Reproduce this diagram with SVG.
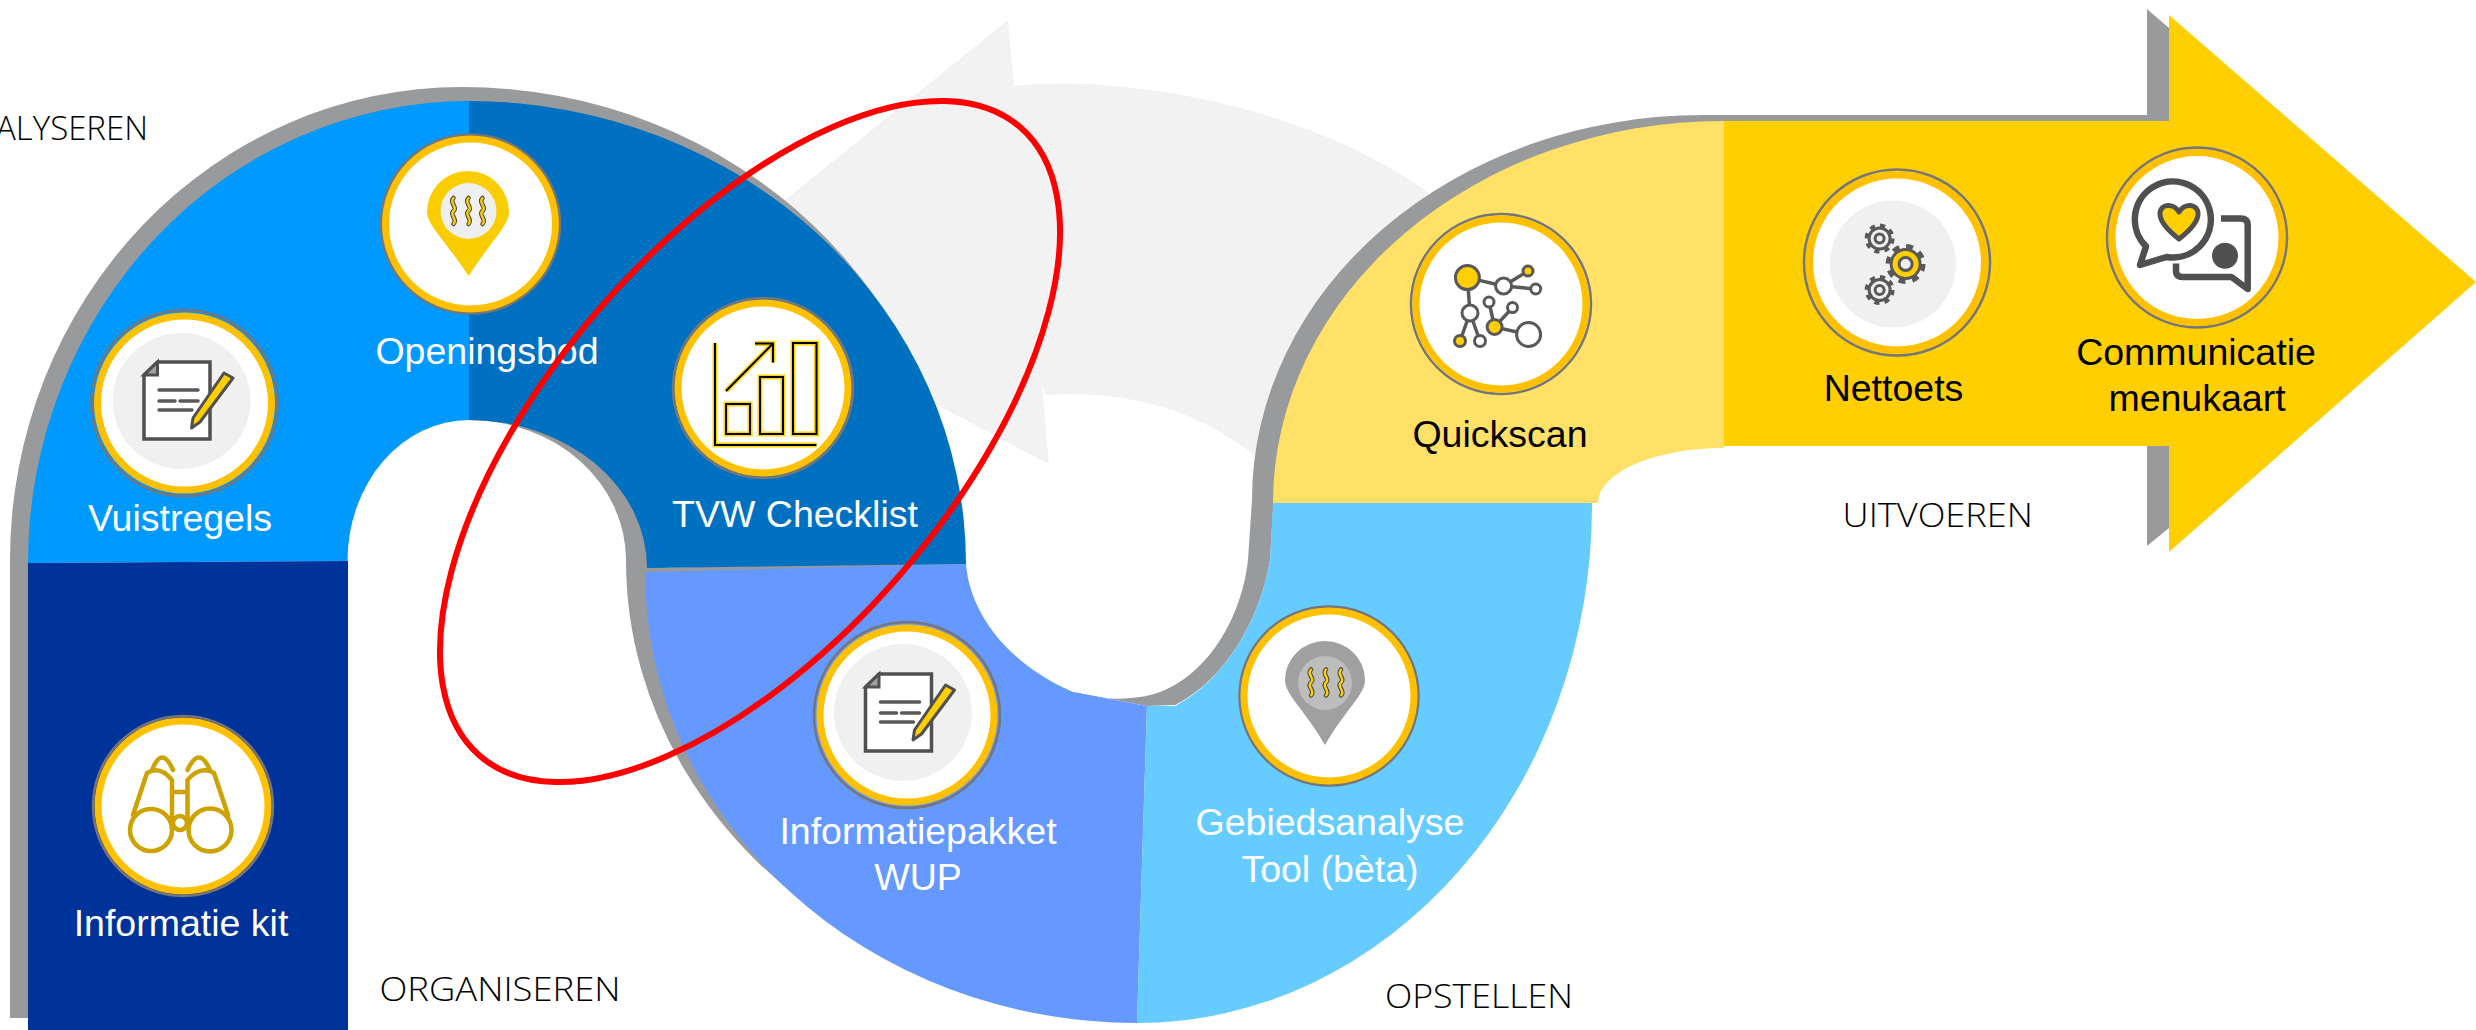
<svg xmlns="http://www.w3.org/2000/svg" xmlns:xlink="http://www.w3.org/1999/xlink" width="2476" height="1030" viewBox="0 0 2476 1030">
<style>
.sh{fill:#999a9c}
.ring{fill:#fff;stroke:#ffc000;stroke-width:7}
.rim{fill:none;stroke:#76757a;stroke-width:2.5}
.disc{fill:#f0f0f0}
.lw{font-family:"Liberation Sans",Arial,sans-serif;font-size:37.5px;text-anchor:middle;fill:#fff}
.lb{font-family:"Liberation Sans",Arial,sans-serif;font-size:37.5px;text-anchor:middle;fill:#000}
.st{font-family:"Open Sans","Liberation Sans",sans-serif;font-weight:300;font-size:33px;fill:#000}
.ic{fill:none;stroke:#595959;stroke-width:3.5;stroke-linejoin:round;stroke-linecap:round}
.nd{fill:#fff;stroke:#595959;stroke-width:3}
.ng{fill:#ffcf01;stroke:#595959;stroke-width:3}
.bi{fill:none;stroke:#cca300;stroke-width:4.5;stroke-linejoin:round;stroke-linecap:round}
.cy{fill:none;stroke:#ffd400;stroke-width:5}
.ck{fill:none;stroke:#000;stroke-width:2}
.cb{fill:none;stroke:#505050;stroke-width:6.5;stroke-linejoin:round}
</style>
<defs>
<g id="wave"><path d="M0,-13C-5,-8 5,-4 0,0C-5,4 5,8 0,13" fill="none" stroke="#444" stroke-width="4.500" stroke-linecap="round"/><path d="M0,-13C-5,-8 5,-4 0,0C-5,4 5,8 0,13" fill="none" stroke="#ffcf01" stroke-width="2.400" stroke-linecap="round"/></g>
<g id="doc">
<path d="M144,375L157.500,362H210V439H144Z" fill="#fff" stroke="#505050" stroke-width="3.500"/>
<path d="M144,375L157.500,362V375Z" fill="#a0a0a0" stroke="#505050" stroke-width="3"/>
<path d="M159,390H198M159,401H175M180,401H198M159,410H192" class="ic"/>
<path d="M224,373L233,378L200,422L191.500,428L193,418Z" fill="#ffcf01" stroke="#505050" stroke-width="3" stroke-linejoin="round"/>
</g>
<g id="gear">
<circle r="12.500" fill="none" stroke="#595959" stroke-width="5" stroke-dasharray="4.900 4.920"/>
<circle r="12" fill="#595959"/>
</g>
</defs>

<path id="back-arrow" d="M1008,20L1014,86C1110,75 1300,100 1429,193L1500,300L1260,460C1200,410 1130,390 1045,395L1042,384L1049,464L935,404L800,300L785,200Z" fill="#f2f2f2"/>

<g id="ribbon-shadow">
<path class="sh" d="M10,1018V560A452,473 0 0 1 462,87A497,473 0 0 1 959,560L626,560A157,140 0 0 0 469,420L469,300L28,563V1018Z"/>
<path class="sh" d="M626,560A511,450 0 0 0 850,933L1000,900L700,600L660,560Z"/>
<path class="sh" d="M645,568L966,562V566L645,574Z"/>
<path class="sh" d="M1073,692Q1105,702 1140,697C1195,690 1240,630 1248,560L1252,500A451,385 0 0 1 1703,115H2147V9L2169,28V130H1724L1273,510L1270,560C1260,620 1225,680 1175,705L1147,706Z"/>
<path class="sh" d="M2147,446H2169V528L2147,546Z"/>
</g>

<g id="ribbon">
<path fill="#0099ff" d="M28,563A441,462 0 0 1 469,101V420A121.500,141 0 0 0 347.500,561Z"/>
<path fill="#003399" d="M28,563L348,561V1030H28Z"/>
<path fill="#0070c0" d="M469,101A497,463 0 0 1 966,564L647,568A178,148 0 0 0 469,420Z"/>
<path fill="#6699ff" d="M645,572L966,564C970,615 1010,665 1073,692L1147,706L1137,1023A492,451 0 0 1 645,572Z"/>
<path fill="#66ccff" d="M1147,706H1175C1225,680 1260,620 1270,560L1273,503H1592A455,518 0 0 1 1137,1023Z"/>
<path fill="#ffe167" d="M1273,503A451,382 0 0 1 1724,121V448A126,55 0 0 0 1598,503Z"/>
<path fill="#ffcf01" d="M1724,121H2169V15L2476,282L2169,552V446H1724Z"/>
</g>

<g id="node-informatie-kit">
<circle class="rim" cx="183" cy="806" r="90"/><circle class="ring" cx="183" cy="806" r="85"/>
<circle class="bi" cx="151" cy="830" r="21"/><circle class="bi" cx="210" cy="830" r="21.500"/><circle class="bi" cx="180" cy="823" r="7"/>
<path class="bi" d="M133,815L147,773Q160,765 172,780V826M228,815L214,773Q200,765 187.500,780V826M152,770Q162,745 173,770M187.500,770Q199,745 210,770M174,792H186"/>
<text class="lw" x="181" y="936">Informatie kit</text>
</g>

<g id="node-vuistregels">
<circle class="rim" cx="184.500" cy="403" r="93"/><circle class="ring" cx="184.500" cy="403" r="87"/>
<ellipse class="disc" cx="181.500" cy="401" rx="69" ry="68"/>
<use href="#doc" xlink:href="#doc"/>
<text class="lw" x="180" y="531">Vuistregels</text>
</g>

<g id="node-openingsbod">
<circle class="rim" cx="470.500" cy="224" r="89.500"/><circle class="ring" cx="470.500" cy="224" r="85"/>
<path d="M468.500,276C445,240 427,225 427,212A41,41 0 0 1 509,212C509,225 492,240 468.500,276Z" fill="#facd00"/>
<circle cx="468.500" cy="211" r="28" fill="#efefef"/>
<use href="#wave" xlink:href="#wave" x="453.500" y="211"/><use href="#wave" xlink:href="#wave" x="468.500" y="211"/><use href="#wave" xlink:href="#wave" x="482.500" y="211"/>
<text class="lw" x="487" y="364">Openingsbod</text>
</g>

<g id="node-tvw-checklist">
<circle class="rim" cx="763" cy="388" r="90"/><circle class="ring" cx="763" cy="388" r="85"/>
<path class="cy" d="M715,343V445H816.500M726,404H750V434H726ZM760,377H783V434H760ZM793,343H816.500V434H793ZM726,391L773,343.500M755,343.500H773V362.500"/>
<path class="ck" d="M715,343V445H816.500M726,404H750V434H726ZM760,377H783V434H760ZM793,343H816.500V434H793ZM726,391L773,343.500M755,343.500H773V362.500"/>
<text class="lw" x="795" y="527">TVW Checklist</text>
</g>

<g id="node-informatiepakket">
<circle class="rim" cx="907" cy="715" r="93"/><circle class="ring" cx="907" cy="715" r="87"/>
<ellipse class="disc" cx="903" cy="712.500" rx="69" ry="68.500"/>
<use href="#doc" xlink:href="#doc" x="721.500" y="312"/>
<text class="lw" x="918" y="844">Informatiepakket</text>
<text class="lw" x="918" y="890">WUP</text>
</g>

<g id="node-gebiedsanalyse">
<circle class="rim" cx="1329" cy="696" r="89.500"/><circle class="ring" cx="1329" cy="696" r="85"/>
<path d="M1325,745C1305,710 1285,695 1285,680A40,39 0 0 1 1365,680C1365,695 1345,710 1325,745Z" fill="#a0a0a0"/>
<circle cx="1325" cy="683" r="27" fill="#bdbdbd"/>
<use href="#wave" xlink:href="#wave" x="1311" y="682.500"/><use href="#wave" xlink:href="#wave" x="1326" y="682.500"/><use href="#wave" xlink:href="#wave" x="1341" y="682.500"/>
<text class="lw" x="1330" y="835">Gebiedsanalyse</text>
<text class="lw" x="1330" y="882">Tool (bèta)</text>
</g>

<g id="node-quickscan">
<circle class="rim" cx="1501" cy="304" r="90"/><circle class="ring" cx="1501" cy="304" r="85"/>
<path class="ic" d="M1467.400,277.600L1503.600,286L1528,271M1503.600,286L1535.700,289M1467.400,277.600L1470,313L1460,341M1470,313L1480,341M1489,302L1494.600,327L1512.500,307.600M1494.600,327L1528.600,334.500"/>
<circle class="ng" cx="1467.400" cy="277.600" r="12"/><circle class="nd" cx="1503.600" cy="286" r="8"/><circle class="ng" cx="1528" cy="271" r="5"/><circle class="nd" cx="1535.700" cy="289" r="5"/><circle class="nd" cx="1470" cy="313" r="8"/><circle class="ng" cx="1460" cy="341" r="5.500"/><circle class="nd" cx="1480" cy="341" r="5.500"/><circle class="nd" cx="1489" cy="302" r="5"/><circle class="nd" cx="1512.500" cy="307.600" r="5"/><circle class="ng" cx="1494.600" cy="327" r="7.500"/><circle class="nd" cx="1528.600" cy="334.500" r="12"/>
<text class="lb" x="1500" y="447">Quickscan</text>
</g>

<g id="node-nettoets">
<circle class="rim" cx="1897" cy="262.500" r="93"/><circle class="ring" cx="1897" cy="262.500" r="87.500"/>
<ellipse class="disc" cx="1893" cy="264" rx="63" ry="63.500"/>
<use href="#gear" xlink:href="#gear" x="1879.600" y="238.600"/><circle cx="1879.600" cy="238.600" r="9" fill="#f0f0f0"/><circle cx="1879.600" cy="238.600" r="4.500" fill="#f0f0f0" stroke="#595959" stroke-width="3"/>
<use href="#gear" xlink:href="#gear" x="1879.600" y="290"/><circle cx="1879.600" cy="290" r="9" fill="#f0f0f0"/><circle cx="1879.600" cy="290" r="4.500" fill="#f0f0f0" stroke="#595959" stroke-width="3"/>
<use href="#gear" xlink:href="#gear" transform="translate(1905.600 264) scale(1.330)"/><circle cx="1905.600" cy="264" r="13" fill="#ffcf01"/><circle cx="1905.600" cy="264" r="6.500" fill="#f0f0f0" stroke="#595959" stroke-width="3"/>
<text class="lb" x="1893.500" y="400.700">Nettoets</text>
</g>

<g id="node-communicatie">
<circle class="rim" cx="2197" cy="237.500" r="90"/><circle class="ring" cx="2197" cy="237.500" r="85"/>
<path class="cb" d="M2221,218.600H2240.700Q2247.700,218.600 2247.700,225V289L2231.500,277H2183Q2176,277 2176,271V263.600"/>
<path class="cb" d="M2146,246.400A38,38 0 1 1 2166.700,257L2140,265Z" fill="#fff"/>
<path d="M2179,239C2170,232 2160,222 2160,214C2160,203 2174,203 2179,212C2184,203 2198,203 2198,214C2198,222 2188,232 2179,239Z" fill="#ffcf01" stroke="#505050" stroke-width="5" stroke-linejoin="round"/>
<circle cx="2225" cy="255.700" r="13" fill="#505050"/>
<text class="lb" x="2196" y="365">Communicatie</text>
<text class="lb" x="2197" y="411">menukaart</text>
</g>

<g id="stage-labels">
<text class="st" x="-4" y="140" textLength="152" lengthAdjust="spacingAndGlyphs">ALYSEREN</text>
<text class="st" x="379.500" y="1001" textLength="241" lengthAdjust="spacingAndGlyphs">ORGANISEREN</text>
<text class="st" x="1385" y="1008" textLength="188" lengthAdjust="spacingAndGlyphs">OPSTELLEN</text>
<text class="st" x="1842.600" y="527" textLength="190.400" lengthAdjust="spacingAndGlyphs">UITVOEREN</text>
</g>

<ellipse id="highlight" cx="750" cy="441.500" rx="414.500" ry="200.700" transform="rotate(-49.350 750 441.500)" fill="none" stroke="#ff0000" stroke-width="6"/>
</svg>
